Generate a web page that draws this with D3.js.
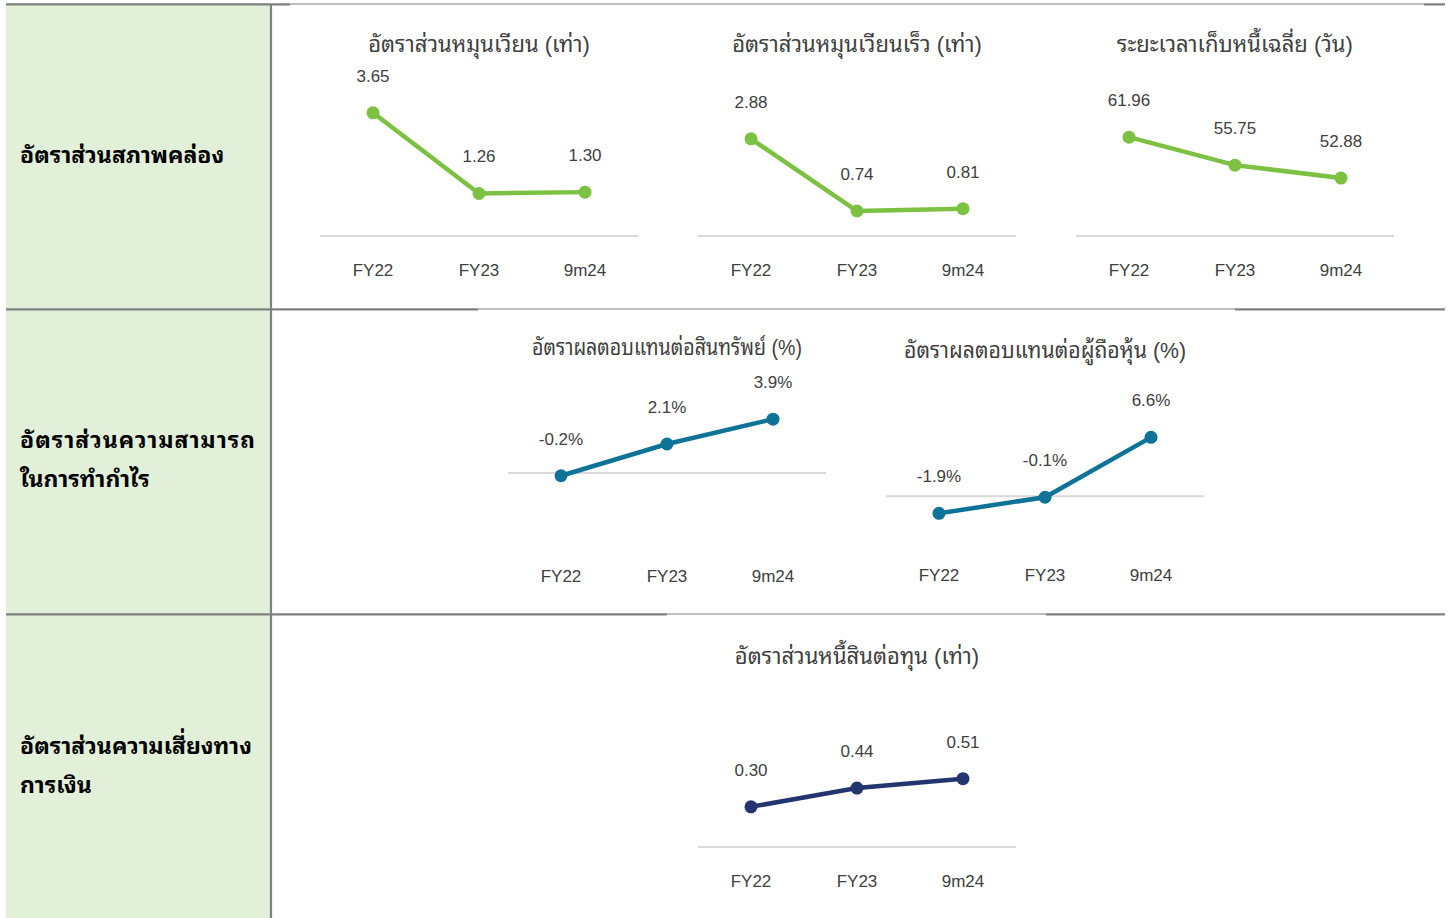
<!DOCTYPE html>
<html>
<head>
<meta charset="utf-8">
<script src="https://cdn.jsdelivr.net/npm/d3@7"></script>
<style>
  body { margin: 0; background: #fff; }
  svg text { font-family: "Liberation Sans", "Noto Sans Thai Looped", "Loma", "Garuda", "Noto Sans Thai", "Noto Sans", sans-serif; }
</style>
</head>
<body>
<div class="usable"></div>
<script>
// ข้อมูล
const periods = ["FY22", "FY23", "9m24"]
const rowLabels = [
  ["อัตราส่วนสภาพคล่อง"],
  ["อัตราส่วนความสามารถ", "ในการทำกำไร"],
  ["อัตราส่วนความเสี่ยงทาง", "การเงิน"]
]
const chartTitles = [
  "อัตราส่วนหมุนเวียน (เท่า)",
  "อัตราส่วนหมุนเวียนเร็ว (เท่า)",
  "ระยะเวลาเก็บหนี้เฉลี่ย (วัน)",
  "อัตราผลตอบแทนต่อสินทรัพย์ (%)",
  "อัตราผลตอบแทนต่อผู้ถือหุ้น (%)",
  "อัตราส่วนหนี้สินต่อทุน (เท่า)"
]
const currentRatio = [3.65, 1.26, 1.30]
const quickRatio = [2.88, 0.74, 0.81]
const collectionDays = [61.96, 55.75, 52.88]
const roa = [-0.2, 2.1, 3.9]
const roe = [-1.9, -0.1, 6.6]
const debtToEquity = [0.30, 0.44, 0.51]
const yDomains = [[0, 4], [0, 4], [40, 70], [-5, 5], [-5, 10], [0, 1]]

const width = 1451,
  height = 918

const green = "#7cc142", teal = "#0f7398", navy = "#22356f"

let svg = d3.select(".usable").append("svg")
  .attr("width", width)
  .attr("height", height)

// ตาราง
svg.append("rect").attr("x", 6).attr("y", 4).attr("width", 265).attr("height", height - 4).attr("fill", "#e2efd9")

const rowsY = [4, 309, 614]
const thick = [[6, 290], [6, 478], [6, 667]]
const thickR = [[1424, 1445], [1235, 1445], [1046, 1445]]
rowsY.forEach((y, i) => {
  svg.append("line").attr("x1", 6).attr("x2", 1445).attr("y1", y).attr("y2", y)
    .attr("stroke", "#808080").attr("stroke-width", 1.2)
  svg.append("line").attr("x1", thick[i][0]).attr("x2", thick[i][1]).attr("y1", y + 0.5).attr("y2", y + 0.5)
    .attr("stroke", "#808080").attr("stroke-width", 2)
  svg.append("line").attr("x1", thickR[i][0]).attr("x2", thickR[i][1]).attr("y1", y + 0.5).attr("y2", y + 0.5)
    .attr("stroke", "#808080").attr("stroke-width", 2)
})
svg.append("line").attr("x1", 271).attr("x2", 271).attr("y1", 4).attr("y2", height)
  .attr("stroke", "#808080").attr("stroke-width", 2.2)

// ป้ายแถว
const rowCenters = [155, 459, 765]
rowLabels.forEach((lines, i) => {
  let top = rowCenters[i] - (lines.length - 1) * 39 / 2
  lines.forEach((l, j) => {
    let t = svg.append("text").text(l).attr("x", 20).attr("y", top + j * 39 + 8)
      .attr("font-size", 23).attr("font-weight", "bold").attr("fill", "#000")
    // แถวที่สองกว้างกว่าเล็กน้อย
    if (i == 1 && j == 0) t.attr("textLength", 235).attr("lengthAdjust", "spacing")
  })
})

function miniChart(title, values, domain, color, x0, top, bottom, fmt, titleWidth) {
  let g = svg.append("g")
  let x = d3.scaleBand().domain(periods).range([x0, x0 + 318])
  let y = d3.scaleLinear().domain(domain).range([bottom, top])
  let cx = x0 + 159

  let tt = g.append("text").text(title).attr("x", cx).attr("y", top - 49)
    .attr("text-anchor", "middle").attr("font-size", 22).attr("fill", "#404040")
  if (titleWidth) tt.attr("textLength", titleWidth).attr("lengthAdjust", "spacingAndGlyphs")

  // เส้นศูนย์ / เส้นฐาน
  let baseY = y(Math.max(domain[0], 0))
  g.append("line").attr("x1", x0).attr("x2", x0 + 318).attr("y1", baseY).attr("y2", baseY)
    .attr("stroke", "#d9d9d9").attr("stroke-width", 2)

  g.selectAll(".tick-label").data(periods).enter().append("text")
    .text(d => d).attr("x", d => x(d) + x.bandwidth() / 2).attr("y", bottom + 40)
    .attr("text-anchor", "middle").attr("font-size", 17).attr("fill", "#404040")

  let line = d3.line().x((d, i) => x(periods[i]) + x.bandwidth() / 2).y(d => y(d))
  g.append("path").datum(values).attr("d", line)
    .attr("fill", "none").attr("stroke", color).attr("stroke-width", 4.5)

  g.selectAll("circle").data(values).enter().append("circle")
    .attr("cx", (d, i) => x(periods[i]) + x.bandwidth() / 2).attr("cy", d => y(d))
    .attr("r", 6.5).attr("fill", color)

  g.selectAll(".val").data(values).enter().append("text")
    .text(fmt).attr("x", (d, i) => x(periods[i]) + x.bandwidth() / 2).attr("y", d => y(d) - 31)
    .attr("text-anchor", "middle").attr("font-size", 17).attr("fill", "#404040")
}

const f2 = d => d.toFixed(2)
const fp = d => d.toFixed(1) + "%"

miniChart(chartTitles[0], currentRatio, yDomains[0], green, 320, 101, 236, f2)
miniChart(chartTitles[1], quickRatio, yDomains[1], green, 698, 101, 236, f2)
miniChart(chartTitles[2], collectionDays, yDomains[2], green, 1076, 101, 236, f2)
miniChart(chartTitles[3], roa, yDomains[3], teal, 508, 404, 542, fp, 270)
miniChart(chartTitles[4], roe, yDomains[4], teal, 886, 407, 541, fp, 282)
miniChart(chartTitles[5], debtToEquity, yDomains[5], navy, 698, 713, 847, f2)
</script>
</body>
</html>
